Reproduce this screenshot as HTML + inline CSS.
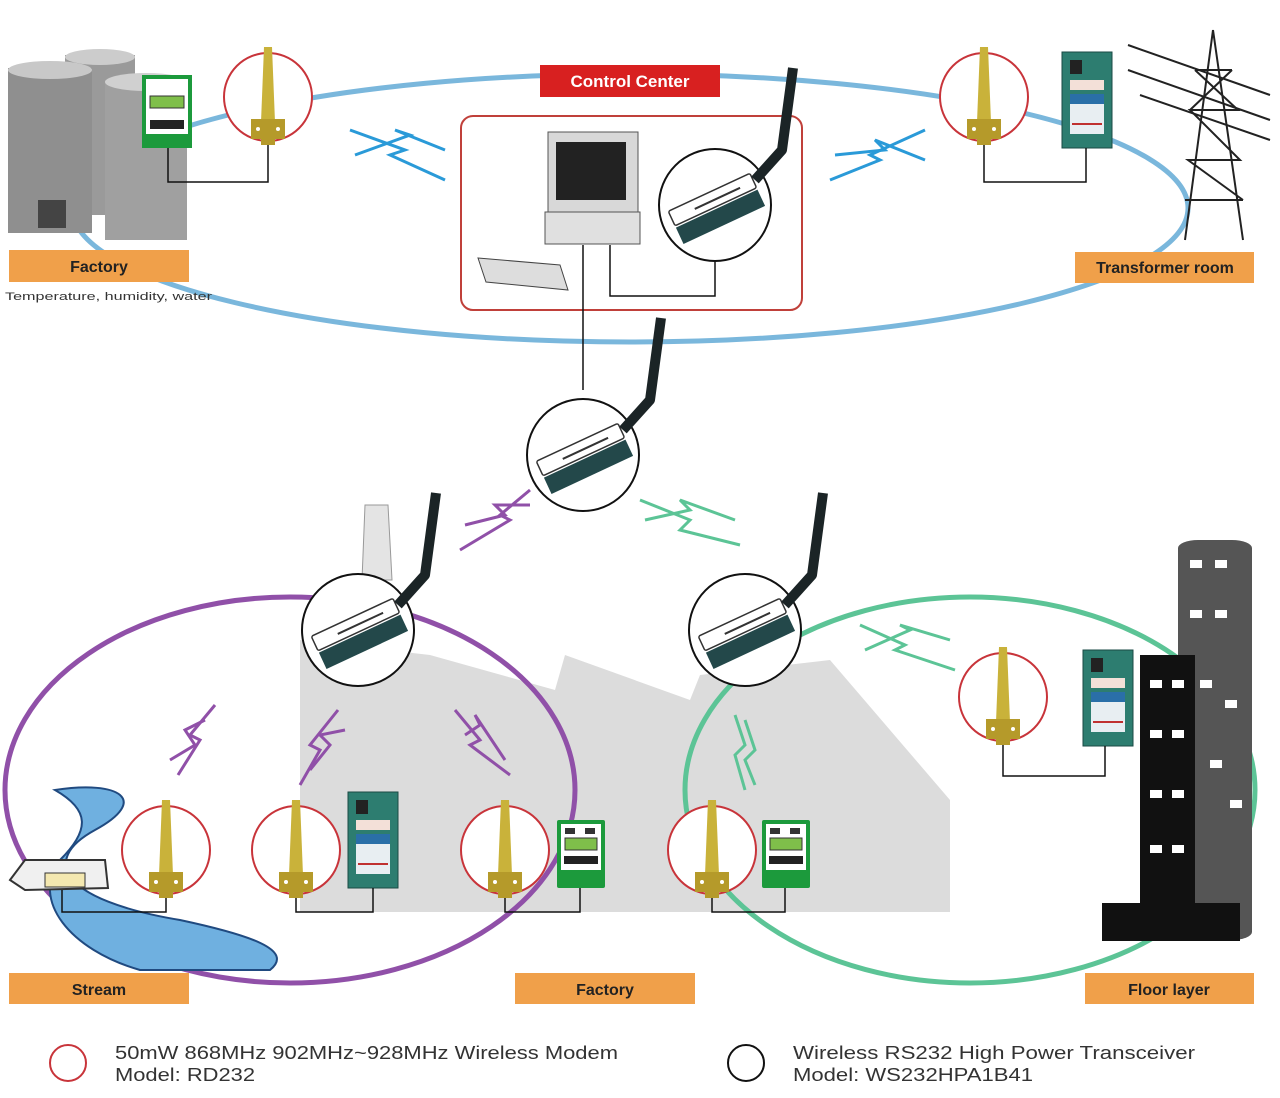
<!DOCTYPE html>
<html><head><meta charset="utf-8"><style>
html,body{margin:0;padding:0;background:#fff;}
svg{display:block;font-family:"Liberation Sans",sans-serif;}
</style></head><body>
<svg width="1280" height="1098" viewBox="0 0 1280 1098" xmlns="http://www.w3.org/2000/svg">
<defs>
<g id="ant">
 <circle r="44" fill="#fff" stroke="#c8343a" stroke-width="2"/>
 <polygon points="-4,-50 4,-50 7,25 -7,25" fill="#c9b23a"/>
 <rect x="-17" y="22" width="34" height="20" fill="#b59a2a"/>
 <rect x="-7" y="40" width="14" height="8" fill="#b59a2a"/>
 <circle cx="-10" cy="32" r="2" fill="#fff"/><circle cx="10" cy="32" r="2" fill="#fff"/>
</g>
<g id="modem">
 <circle r="56" fill="#fff" stroke="#111" stroke-width="2"/>
 <g transform="rotate(-25)">
  <rect x="-45" y="-14" width="90" height="16" fill="#fff" stroke="#333" stroke-width="1.5" rx="2"/>
  <rect x="-45" y="4" width="90" height="18" fill="#23484a"/>
  <line x1="-20" y1="-5" x2="30" y2="-5" stroke="#333" stroke-width="2"/>
 </g>
 <polyline points="40,-25 67,-55 78,-137" fill="none" stroke="#1b2426" stroke-width="10" stroke-linejoin="round"/>
</g>
<g id="gm">
 <rect x="0" y="0" width="48" height="68" fill="#1c9a3c" rx="2"/>
 <rect x="4" y="4" width="40" height="46" fill="#fff"/>
 <rect x="8" y="8" width="10" height="6" fill="#333"/><rect x="28" y="8" width="10" height="6" fill="#333"/>
 <rect x="8" y="18" width="32" height="12" fill="#7fbf4a" stroke="#333"/>
 <rect x="7" y="36" width="34" height="8" fill="#222"/>
</g>
<g id="tm">
 <rect x="0" y="0" width="50" height="96" fill="#2d7d70" stroke="#1a4a44"/>
 <rect x="8" y="8" width="12" height="14" fill="#222"/>
 <rect x="8" y="28" width="34" height="10" fill="#f3e0d8"/>
 <rect x="8" y="42" width="34" height="40" fill="#e8eef2"/>
 <rect x="8" y="42" width="34" height="10" fill="#2a6fa8"/>
 <line x1="10" y1="72" x2="40" y2="72" stroke="#c03030" stroke-width="2"/>
</g>
</defs>

<ellipse cx="630" cy="208" rx="558" ry="134" fill="none" stroke="#7ab7dc" stroke-width="5"/>

<!-- tanks -->
<rect x="65" y="55" width="70" height="160" fill="#9a9a9a"/>
<ellipse cx="100" cy="57" rx="35" ry="8" fill="#ccc"/>
<rect x="8" y="68" width="84" height="165" fill="#8f8f8f"/>
<ellipse cx="50" cy="70" rx="42" ry="9" fill="#c8c8c8"/>
<rect x="38" y="200" width="28" height="28" fill="#444"/>
<rect x="105" y="80" width="82" height="160" fill="#a0a0a0"/>
<ellipse cx="146" cy="82" rx="41" ry="9" fill="#d0d0d0"/>
<rect x="142" y="75" width="50" height="73" fill="#1c9a3c"/>
<rect x="146" y="79" width="42" height="55" fill="#fff"/>
<rect x="150" y="96" width="34" height="12" fill="#7fbf4a" stroke="#333"/>
<rect x="150" y="120" width="34" height="9" fill="#222"/>
<path d="M168 148 V182 H268 V142" fill="none" stroke="#111" stroke-width="1.5"/>
<use href="#ant" x="268" y="97"/>

<!-- tower -->
<g stroke="#222" stroke-width="2" fill="none">
<path d="M1213 30 L1185 240 M1213 30 L1243 240 M1195 70 L1232 70 M1190 110 L1238 110 M1188 160 L1240 160 M1185 200 L1243 200 M1195 70 L1238 110 L1190 110 L1240 160 L1188 160 L1243 200 M1232 70 L1190 110"/>
<path d="M1128 45 L1270 95 M1128 70 L1270 120 M1140 95 L1270 140"/>
</g>
<use href="#tm" x="1062" y="52"/>
<path d="M984 141 V182 H1086 V148" fill="none" stroke="#111" stroke-width="1.5"/>
<use href="#ant" x="984" y="97"/>

<!-- control center -->
<rect x="540" y="65" width="180" height="32" fill="#d82020"/>
<text x="630" y="87" text-anchor="middle" fill="#fff" font-size="17" font-weight="bold">Control Center</text>
<rect x="461" y="116" width="341" height="194" rx="12" fill="#fff" stroke="#c0403a" stroke-width="2"/>
<rect x="548" y="132" width="90" height="82" fill="#d8d8d8" stroke="#555"/>
<rect x="556" y="142" width="70" height="58" fill="#222"/>
<rect x="545" y="212" width="95" height="32" fill="#e0e0e0" stroke="#555"/>
<polygon points="478,258 560,265 568,290 486,282" fill="#ddd" stroke="#444"/>
<path d="M583 245 V390 M610 245 V296 H715 V262" fill="none" stroke="#111" stroke-width="1.5"/>
<use href="#modem" x="715" y="205"/>

<rect x="9" y="250" width="180" height="32" fill="#f0a04a"/>
<text x="99" y="272" text-anchor="middle" font-size="16" font-weight="bold" fill="#222">Factory</text>
<text x="5" y="300" font-size="11" fill="#333" textLength="207" lengthAdjust="spacingAndGlyphs">Temperature, humidity, water</text>
<rect x="1075" y="252" width="179" height="31" fill="#f0a04a"/>
<text x="1165" y="273" text-anchor="middle" font-size="16" font-weight="bold" fill="#222">Transformer room</text>

<g fill="none" stroke-width="3">
<path d="M350 130 L405 150 L390 155 L445 180" stroke="#2a9ad8"/>
<path d="M355 155 L410 135 L395 130 L445 150" stroke="#2a9ad8"/>
<path d="M830 180 L880 160 L870 155 L925 130" stroke="#2a9ad8"/>
<path d="M835 155 L885 150 L875 140 L925 160" stroke="#2a9ad8"/>
</g>

<polygon points="300,640 430,655 555,690 565,655 690,700 700,675 830,660 950,800 950,912 300,912" fill="#dcdcdc"/>
<polygon points="365,505 388,505 392,580 362,580" fill="#e4e4e4" stroke="#999"/>

<ellipse cx="290" cy="790" rx="285" ry="193" fill="none" stroke="#9050a8" stroke-width="5"/>
<ellipse cx="970" cy="790" rx="285" ry="193" fill="none" stroke="#5cc496" stroke-width="5"/>

<path d="M55 790 C120 780 150 800 95 830 C40 860 60 900 180 920 C250 935 295 950 270 970 L140 970 C70 950 30 900 60 860 C90 830 90 810 55 790 Z" fill="#6fb0e0" stroke="#204a80" stroke-width="2"/>
<polygon points="10,880 25,860 105,860 108,888 25,890" fill="#f0f0f0" stroke="#333" stroke-width="2"/>
<rect x="45" y="873" width="40" height="14" fill="#f4e8b0" stroke="#333"/>

<rect x="1178" y="540" width="74" height="400" fill="#555" rx="20" ry="8"/>
<rect x="1140" y="655" width="55" height="248" fill="#111"/>
<rect x="1102" y="903" width="138" height="38" fill="#111"/>
<g fill="#fff">
<rect x="1190" y="560" width="12" height="8"/><rect x="1215" y="560" width="12" height="8"/>
<rect x="1190" y="610" width="12" height="8"/><rect x="1215" y="610" width="12" height="8"/>
<rect x="1200" y="680" width="12" height="8"/><rect x="1225" y="700" width="12" height="8"/>
<rect x="1150" y="680" width="12" height="8"/><rect x="1172" y="680" width="12" height="8"/>
<rect x="1150" y="730" width="12" height="8"/><rect x="1172" y="730" width="12" height="8"/>
<rect x="1150" y="790" width="12" height="8"/><rect x="1172" y="790" width="12" height="8"/>
<rect x="1150" y="845" width="12" height="8"/><rect x="1172" y="845" width="12" height="8"/>
<rect x="1210" y="760" width="12" height="8"/><rect x="1230" y="800" width="12" height="8"/>
</g>

<use href="#modem" x="583" y="455"/>
<use href="#modem" x="358" y="630"/>
<use href="#modem" x="745" y="630"/>

<g fill="none" stroke-width="3">
<path d="M460 550 L510 520 L500 515 L530 490" stroke="#9050a8"/>
<path d="M465 525 L505 515 L495 505 L530 505" stroke="#9050a8"/>
<path d="M640 500 L690 520 L680 530 L740 545" stroke="#5cc496"/>
<path d="M645 520 L690 510 L680 500 L735 520" stroke="#5cc496"/>
<path d="M860 625 L905 645 L895 650 L955 670" stroke="#5cc496"/>
<path d="M865 650 L910 630 L900 625 L950 640" stroke="#5cc496"/>
<path d="M178 775 L200 740 L190 735 L215 705" stroke="#9050a8"/>
<path d="M170 760 L195 745 L185 730 L205 720" stroke="#9050a8"/>
<path d="M300 785 L320 750 L310 745 L338 710" stroke="#9050a8"/>
<path d="M310 770 L330 745 L320 735 L345 730" stroke="#9050a8"/>
<path d="M455 710 L480 740 L470 745 L510 775" stroke="#9050a8"/>
<path d="M465 735 L480 725 L475 715 L505 760" stroke="#9050a8"/>
<path d="M735 715 L745 745 L735 755 L745 790" stroke="#5cc496"/>
<path d="M745 720 L755 750 L745 760 L755 785" stroke="#5cc496"/>
</g>

<use href="#tm" x="348" y="792"/>
<use href="#gm" x="557" y="820"/>
<use href="#gm" x="762" y="820"/>
<use href="#tm" x="1083" y="650"/>
<g fill="none" stroke="#111" stroke-width="1.5">
<path d="M62 890 V912 H166 V894"/>
<path d="M296 894 V912 H373 V888"/>
<path d="M505 894 V912 H580 V888"/>
<path d="M712 894 V912 H785 V888"/>
<path d="M1003 741 V776 H1105 V746"/>
</g>
<use href="#ant" x="166" y="850"/>
<use href="#ant" x="296" y="850"/>
<use href="#ant" x="505" y="850"/>
<use href="#ant" x="712" y="850"/>
<use href="#ant" x="1003" y="697"/>

<rect x="9" y="973" width="180" height="31" fill="#f0a04a"/>
<text x="99" y="995" text-anchor="middle" font-size="16" font-weight="bold" fill="#222">Stream</text>
<rect x="515" y="973" width="180" height="31" fill="#f0a04a"/>
<text x="605" y="995" text-anchor="middle" font-size="16" font-weight="bold" fill="#222">Factory</text>
<rect x="1085" y="973" width="169" height="31" fill="#f0a04a"/>
<text x="1169" y="995" text-anchor="middle" font-size="16" font-weight="bold" fill="#222">Floor layer</text>

<circle cx="68" cy="1063" r="18" fill="none" stroke="#c8343a" stroke-width="2"/>
<text x="115" y="1059" font-size="18" fill="#333" textLength="503" lengthAdjust="spacingAndGlyphs">50mW 868MHz 902MHz~928MHz Wireless Modem</text>
<text x="115" y="1081" font-size="18" fill="#333" textLength="140" lengthAdjust="spacingAndGlyphs">Model: RD232</text>
<circle cx="746" cy="1063" r="18" fill="none" stroke="#111" stroke-width="2"/>
<text x="793" y="1059" font-size="18" fill="#333" textLength="402" lengthAdjust="spacingAndGlyphs">Wireless RS232 High Power Transceiver</text>
<text x="793" y="1081" font-size="18" fill="#333" textLength="240" lengthAdjust="spacingAndGlyphs">Model: WS232HPA1B41</text>
</svg>
</body></html>
